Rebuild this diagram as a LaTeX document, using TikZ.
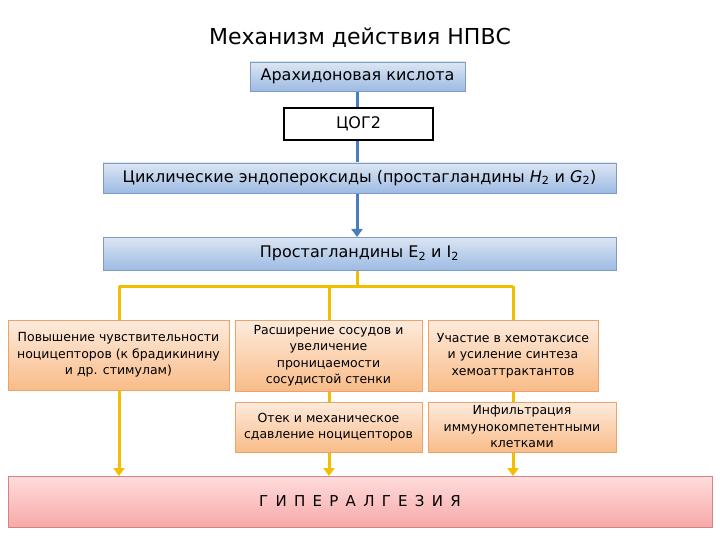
\documentclass[tikz,border=0pt]{standalone}
\usepackage{fontspec}
\setmainfont{DejaVu Sans}
\usetikzlibrary{arrows.meta}
\definecolor{bluetop}{HTML}{DCE6F4}
\definecolor{bluebot}{HTML}{9DBBE3}
\definecolor{blueedge}{HTML}{7F9DC4}
\definecolor{bluel}{HTML}{4A7EBB}
\definecolor{ortop}{HTML}{FDEBDD}
\definecolor{orbot}{HTML}{F9BC88}
\definecolor{oredge}{HTML}{E8A46A}
\definecolor{yel}{HTML}{F2BE00}
\definecolor{pktop}{HTML}{FFDCDC}
\definecolor{pkbot}{HTML}{F7A9A9}
\definecolor{pkedge}{HTML}{C0504D}
\tikzset{
  bluebox/.style={draw=blueedge, line width=0.8pt, top color=bluetop, bottom color=bluebot, inner sep=0pt, font=\fontsize{16}{18}\selectfont},
  orbox/.style={draw=oredge, line width=0.8pt, top color=ortop, bottom color=orbot, inner sep=0pt, align=center, font=\fontsize{12.5}{16.5}\selectfont},
  cogbox/.style={draw=black, line width=1.6pt, fill=white, inner sep=0pt, font=\fontsize{16}{18}\selectfont},
  hypbox/.style={draw=pkedge!70, line width=0.8pt, top color=pktop, bottom color=pkbot, inner sep=0pt, font=\fontsize{15}{17}\selectfont},
  bline/.style={draw=bluel, line width=3pt},
  yline/.style={draw=yel, line width=3pt},
  yarr/.style={yline, -{Triangle[width=11pt,length=8pt]}},
  barr/.style={bline, -{Triangle[width=11pt,length=8pt]}}
}
\begin{document}
\begin{tikzpicture}[x=1pt,y=-1pt]
\useasboundingbox (0,0) rectangle (720,540);
\fill[white] (0,0) rectangle (720,540);
\node (title) at (360,38) {\fontsize{22}{25}\selectfont Механизм действия НПВС};
% yellow connectors (behind boxes)
\coordinate (j0) at (357,286);
\coordinate (jl) at (119,286);
\coordinate (jm) at (329,286);
\coordinate (jr) at (513,286);
\node[hypbox, minimum width=704pt, minimum height=51pt] (hyp) at (360,501.5) {Г\, И\, П\, Е\, Р\, А\, Л\, Г\, Е\, З\, И\, Я};
\draw[yline] (357,270) -- (j0);
\draw[yline] (jl) -- (jr);
\draw[yarr] (jl) -- (119,476);
\draw[yarr] (jm) -- (329,476);
\draw[yarr] (jr) -- (513,476);
% blue line
\draw[bline] (357,91) -- (357,163);
\draw[barr] (357,193) -- (357,237);
\node[bluebox, minimum width=215pt, minimum height=29pt] (ak) at (357.5,76.5) {Арахидоновая кислота};
\node[cogbox, minimum width=149pt, minimum height=32pt] (cog) at (358.5,124) {ЦОГ2};
\node[bluebox, minimum width=513pt, minimum height=30pt] (cyc) at (359.5,178) {Циклические эндопероксиды (простагландины \textit{H}\textsubscript{2} и \textit{G}\textsubscript{2})};
\node[bluebox, minimum width=513pt, minimum height=33pt] (pg) at (359.5,253.5) {Простагландины E\textsubscript{2} и I\textsubscript{2}};
\node[orbox, minimum width=221pt, minimum height=70pt] (l1) at (118.5,355) {Повышение чувствительности\\ноцицепторов (к брадикинину\\и др. стимулам)};
\node[orbox, minimum width=187pt, minimum height=71pt] (m1) at (328.5,355.5) {Расширение сосудов и\\увеличение\\проницаемости\\сосудистой стенки};
\node[orbox, minimum width=170pt, minimum height=71pt] (r1) at (513,355.5) {Участие в хемотаксисе\\и усиление синтеза\\хемоаттрактантов};
\node[orbox, minimum width=187pt, minimum height=50pt] (m2) at (328.5,427) {Отек и механическое\\сдавление ноцицепторов};
\node[orbox, minimum width=188pt, minimum height=50pt] (r2) at (522,427) {Инфильтрация\\иммунокомпетентными\\клетками};
\end{tikzpicture}
\end{document}
